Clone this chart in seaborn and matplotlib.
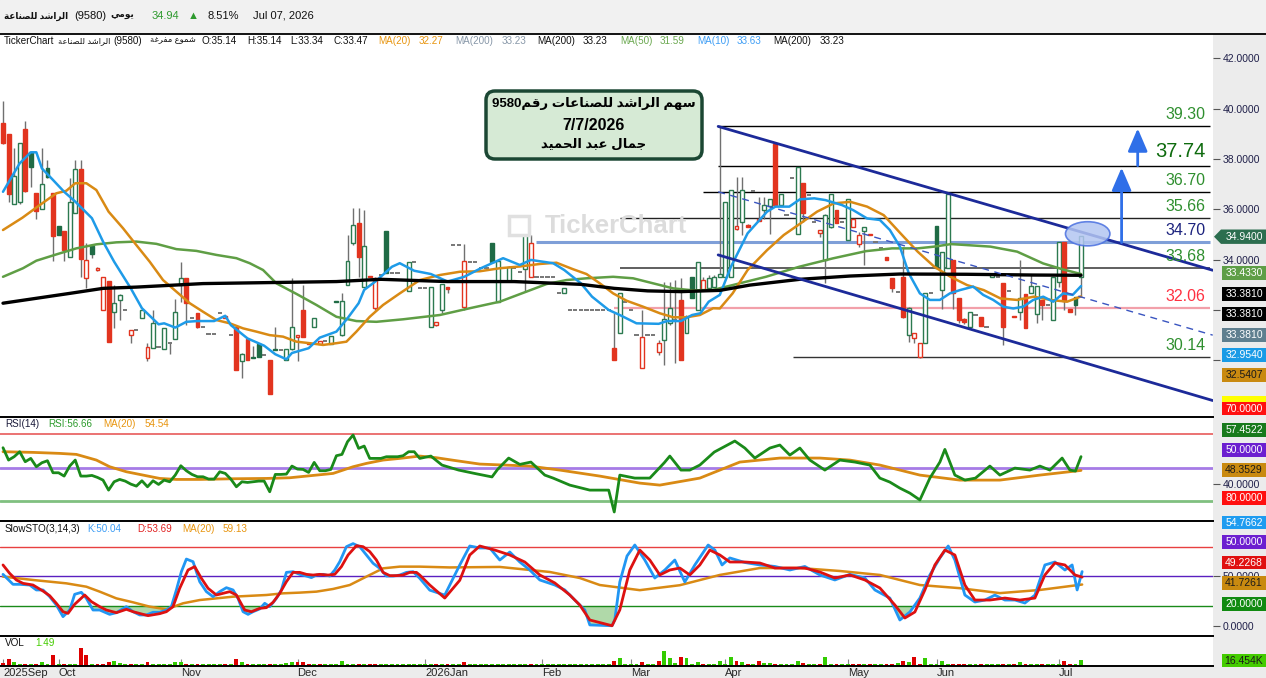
import numpy as np
import matplotlib
matplotlib.use("Agg")
import matplotlib.pyplot as plt
import seaborn as sns
from matplotlib.patches import FancyBboxPatch, Rectangle, Polygon, Ellipse
from matplotlib.lines import Line2D
from matplotlib.transforms import IdentityTransform

sns.set_style("white")
plt.rcParams["font.family"] = ["Liberation Sans", "DejaVu Sans"]

# ---------------- data ----------------
opens = [39.42, 39.00, 36.23, 36.28, 39.20, 38.29, 36.64, 36.00, 37.63, 36.64,
         35.34, 35.14, 34.12, 35.85, 37.60, 33.28, 34.56, 33.58, 31.99, 33.15,
         31.93, 32.41, 32.00, 31.00, 31.19, 31.67, 30.08, 30.48, 30.52, 30.44,
         30.68, 30.83, 32.99, 33.28, 31.67, 31.90, 31.34, 31.03, 31.03, 31.90,
         31.67, 31.00, 31.31, 29.98, 30.85, 30.13, 30.66, 30.21, 30.01, 30.45,
         30.42, 30.01, 30.44, 30.91, 32.00, 30.70, 31.34, 30.66, 30.75, 30.64,
         32.33, 31.00, 32.99, 34.65, 35.45, 32.93, 33.35, 32.07, 33.40, 35.14,
         33.48, 33.48, 33.20, 32.77, 33.92, 32.86, 32.86, 31.34, 31.40, 32.00,
         32.90, 34.58, 34.58, 32.13, 33.92, 33.92, 33.68, 33.68, 34.65, 32.33,
         33.68, 33.15, 33.68, 33.50, 33.62, 33.32, 33.32, 33.32, 33.32, 33.32,
         32.66, 32.66, 32.00, 32.00, 32.00, 32.00, 32.00, 32.00, 32.00, 32.00,
         30.48, 31.07, 32.33, 32.00, 31.00, 29.68, 31.00, 31.00, 30.34, 30.81,
         31.47, 31.60, 32.40, 31.07, 33.32, 32.00, 32.79, 32.86, 32.93, 33.32,
         33.32, 33.32, 35.24, 35.51, 35.36, 36.73, 35.63, 35.97, 36.13, 38.62,
         36.17, 35.77, 37.23, 35.04, 37.03, 36.57, 35.51, 35.07, 33.99, 35.31,
         35.97, 35.51, 34.78, 35.31, 34.61, 35.15, 34.98, 34.70, 34.45, 34.12,
         33.26, 32.73, 33.32, 31.00, 30.87, 30.14, 30.67, 32.66, 35.34, 32.79,
         33.65, 33.99, 32.46, 31.63, 31.33, 31.80, 31.73, 31.33, 33.32, 33.30,
         33.06, 32.77, 31.76, 31.93, 32.62, 32.66, 31.86, 32.40, 32.20, 31.60,
         33.12, 34.69, 32.02, 32.53, 33.30]
highs = [40.31, 39.00, 38.44, 38.65, 39.51, 38.29, 36.64, 38.44, 37.96, 36.64,
         35.34, 35.14, 37.24, 37.96, 37.96, 34.65, 34.56, 33.70, 33.30, 33.15,
         33.00, 32.65, 32.00, 31.20, 31.19, 31.99, 30.68, 32.00, 30.52, 31.30,
         30.68, 32.43, 33.92, 33.28, 31.67, 31.90, 31.34, 31.03, 31.03, 31.90,
         31.78, 31.00, 31.31, 30.30, 30.85, 30.56, 30.66, 30.21, 30.01, 31.31,
         30.42, 30.45, 33.28, 31.00, 33.00, 30.70, 31.67, 30.78, 30.75, 30.97,
         32.33, 32.66, 34.98, 36.04, 36.04, 35.98, 33.35, 33.30, 33.40, 35.14,
         33.48, 33.48, 33.20, 33.92, 33.92, 32.86, 32.86, 32.90, 31.51, 33.02,
         32.90, 34.58, 34.58, 34.62, 33.92, 33.92, 33.68, 33.68, 34.65, 33.95,
         33.68, 33.75, 33.68, 33.50, 35.00, 34.98, 33.32, 33.32, 33.32, 33.32,
         32.66, 32.86, 32.00, 32.00, 32.00, 32.00, 32.00, 32.00, 32.00, 32.00,
         31.88, 32.66, 32.33, 32.00, 31.00, 32.00, 31.00, 31.00, 30.80, 33.12,
         33.10, 33.20, 33.27, 31.80, 33.32, 33.92, 33.30, 33.40, 33.40, 39.28,
         36.30, 36.77, 37.30, 37.30, 35.40, 36.73, 36.50, 36.50, 36.40, 38.62,
         36.63, 35.77, 37.23, 37.70, 37.03, 36.57, 35.51, 35.20, 35.80, 36.63,
         35.97, 35.51, 36.40, 35.62, 35.10, 35.31, 35.04, 34.70, 34.45, 34.12,
         33.26, 32.73, 34.52, 32.10, 31.07, 30.67, 32.66, 32.66, 35.34, 34.32,
         36.67, 33.99, 32.46, 31.67, 31.93, 31.80, 31.73, 31.33, 33.45, 33.30,
         33.06, 32.77, 31.76, 33.99, 32.62, 33.40, 32.96, 32.40, 32.20, 33.32,
         34.72, 34.69, 32.02, 32.53, 34.94]
lows = [38.60, 36.30, 36.20, 36.20, 36.70, 36.90, 35.62, 36.00, 37.25, 33.96,
        35.00, 33.96, 34.10, 35.85, 33.32, 32.89, 34.07, 33.55, 31.99, 30.74,
        31.30, 31.60, 32.00, 30.68, 31.19, 31.67, 29.98, 30.48, 30.52, 30.44,
        30.24, 30.83, 32.33, 31.40, 31.67, 31.30, 31.34, 31.03, 31.03, 31.90,
        31.67, 31.00, 29.61, 29.31, 30.01, 30.08, 30.14, 30.21, 28.66, 30.40,
        30.42, 30.01, 30.40, 29.98, 30.94, 30.66, 31.34, 30.66, 30.75, 30.64,
        32.31, 30.95, 32.99, 34.60, 33.32, 32.90, 33.30, 32.00, 33.40, 33.46,
        33.48, 33.48, 33.20, 32.77, 33.92, 32.86, 32.86, 31.34, 31.35, 31.90,
        32.66, 34.58, 34.58, 32.00, 33.92, 33.92, 33.68, 33.68, 33.92, 32.33,
        33.68, 33.15, 33.68, 33.50, 32.73, 33.30, 33.32, 33.32, 33.32, 33.32,
        32.66, 32.66, 32.00, 32.00, 32.00, 32.00, 32.00, 32.00, 32.00, 32.00,
        30.00, 31.07, 32.33, 32.00, 31.00, 29.68, 31.00, 31.00, 30.20, 29.80,
        31.40, 29.90, 30.00, 31.07, 32.46, 32.00, 32.79, 32.86, 32.90, 33.30,
        33.30, 33.30, 35.20, 34.98, 35.28, 36.73, 35.54, 35.60, 35.04, 36.10,
        36.17, 35.77, 37.23, 35.04, 35.50, 36.57, 35.51, 34.90, 33.06, 35.25,
        35.47, 35.51, 34.78, 35.31, 34.50, 33.80, 34.98, 34.70, 34.45, 33.99,
        32.70, 32.73, 31.70, 30.74, 30.67, 30.10, 30.67, 32.66, 33.65, 32.05,
        33.65, 32.05, 31.47, 31.44, 31.27, 31.80, 31.36, 31.33, 33.32, 33.30,
        30.61, 32.77, 31.71, 31.60, 31.27, 32.66, 31.47, 31.60, 32.20, 31.60,
        32.90, 31.99, 31.93, 31.80, 32.53]
closes = [38.65, 36.61, 37.33, 38.63, 36.74, 37.67, 35.95, 37.00, 37.30, 34.95,
          35.00, 34.37, 36.28, 37.60, 34.04, 33.98, 34.24, 33.67, 33.30, 30.74,
          32.27, 32.60, 32.00, 31.19, 31.19, 31.99, 30.52, 31.47, 30.52, 31.27,
          30.68, 31.93, 33.28, 32.29, 31.67, 31.34, 31.34, 31.03, 31.03, 31.90,
          31.76, 31.00, 29.61, 30.24, 30.01, 30.08, 30.14, 30.21, 28.66, 30.42,
          30.42, 30.44, 31.31, 31.00, 30.94, 30.66, 31.67, 30.78, 30.75, 30.97,
          32.31, 32.37, 33.96, 35.38, 34.12, 34.56, 33.30, 33.28, 33.40, 33.46,
          33.48, 33.48, 33.20, 33.92, 33.92, 32.86, 32.86, 32.90, 31.51, 33.02,
          32.83, 34.58, 34.58, 33.95, 33.92, 33.92, 33.68, 33.68, 33.92, 33.95,
          33.68, 33.70, 33.68, 33.50, 34.98, 34.65, 33.32, 33.32, 33.32, 33.32,
          32.66, 32.86, 32.00, 32.00, 32.00, 32.00, 32.00, 32.00, 32.00, 32.00,
          30.01, 32.66, 32.33, 32.00, 31.00, 30.91, 31.00, 31.00, 30.68, 31.63,
          32.07, 31.60, 30.01, 31.73, 32.46, 33.92, 33.20, 33.28, 33.32, 33.45,
          36.30, 36.77, 35.34, 36.77, 35.28, 36.73, 35.54, 36.17, 36.40, 36.17,
          36.63, 35.77, 37.23, 37.70, 35.87, 36.57, 35.51, 35.18, 35.77, 36.63,
          35.47, 35.51, 36.40, 35.62, 34.98, 35.31, 35.04, 34.70, 34.45, 33.99,
          32.86, 32.73, 31.73, 32.06, 31.07, 30.67, 32.66, 32.66, 33.65, 34.32,
          36.61, 32.66, 31.60, 31.53, 31.93, 31.80, 31.36, 31.33, 33.45, 33.30,
          31.33, 32.77, 31.71, 32.46, 31.27, 32.96, 32.96, 32.20, 32.20, 33.32,
          34.69, 32.36, 31.93, 32.20, 34.94]
volumes_k = [8, 17, 11, 5, 5, 6, 6, 11, 4, 27,
             6, 6, 6, 6, 45, 27, 6, 4, 6, 9,
             14, 7, 4, 6, 4, 4, 9, 4, 4, 4,
             4, 9, 9, 4, 4, 4, 4, 4, 4, 4,
             6, 6, 18, 9, 4, 6, 4, 4, 4, 6,
             4, 7, 9, 11, 9, 4, 4, 4, 4, 4,
             4, 12, 6, 6, 4, 4, 6, 4, 4, 4,
             4, 4, 4, 4, 4, 4, 4, 4, 4, 6,
             4, 4, 4, 9, 4, 4, 4, 4, 4, 6,
             4, 4, 4, 4, 6, 6, 4, 4, 4, 4,
             4, 4, 4, 4, 4, 4, 4, 4, 4, 4,
             13, 20, 4, 4, 4, 9, 4, 4, 13, 39,
             20, 8, 23, 20, 4, 10, 4, 4, 4, 13,
             6, 23, 13, 10, 6, 4, 13, 8, 8, 4,
             6, 4, 4, 13, 8, 4, 4, 4, 23, 6,
             4, 4, 6, 4, 4, 4, 4, 4, 4, 6,
             6, 8, 13, 10, 23, 4, 20, 4, 4, 13,
             4, 4, 4, 4, 4, 4, 4, 4, 4, 4,
             6, 4, 4, 10, 4, 6, 4, 4, 4, 4,
             6, 13, 4, 4, 16.45]

ma10_x = [0, 3, 5, 6, 7, 9, 11, 13, 16, 18, 20, 23, 25, 28, 29, 31, 33, 35, 38, 40, 41, 44, 47, 49, 51, 52,
          55, 57, 60, 62, 64, 65, 67, 70, 71.4, 74, 77, 80, 83, 86, 90, 93, 95, 99, 101, 104, 106, 109, 111,
          114, 118, 119.5, 122, 124, 125.5, 127, 129, 131, 134, 137.5, 139, 141.5, 143.4, 146, 148, 151, 153,
          155.5, 157.8, 159.6, 161.4, 163, 165, 166.8, 168.6, 170.4, 172.2, 174.6, 176.4, 178.2, 180, 181.8,
          183.6, 185.4, 187.2, 189, 190.8, 192.5, 194]
ma10_v = [36.70, 37.83, 38.27, 38.27, 37.63, 37.17, 36.70, 36.31, 35.65, 34.72, 33.92, 32.86, 32.07, 31.43,
          31.47, 31.30, 31.53, 31.56, 31.56, 31.77, 31.40, 30.87, 30.58, 30.24, 30.04, 30.29, 30.48, 30.90,
          31.14, 31.67, 32.27, 32.80, 33.13, 33.72, 33.86, 33.56, 33.43, 33.13, 33.32, 33.66, 34.06, 33.79,
          33.99, 33.86, 33.59, 33.06, 32.53, 32.00, 31.80, 31.47, 31.45, 31.56, 31.56, 31.80, 31.87, 32.33,
          32.60, 33.72, 35.05, 35.91, 36.11, 36.11, 36.40, 36.44, 36.37, 36.17, 35.97, 35.64, 35.58, 35.18,
          34.52, 33.46, 32.66, 32.40, 32.40, 32.66, 32.79, 32.93, 32.60, 32.40, 32.13, 32.06, 32.13, 32.40,
          32.53, 32.33, 32.66, 32.60, 32.95]
ma20_x = [0, 3.5, 6.6, 9.6, 11.4, 13, 15, 16.8, 19, 21.6, 24, 26.4, 28.8, 31.2, 33.6, 36, 38.4, 40.8, 43.2,
          45.6, 48, 50.4, 52.8, 55.2, 57.6, 60, 61.8, 63.6, 66, 68.4, 71.4, 75, 78.6, 82.2, 85.8, 89.4, 93,
          96.6, 99.6, 102.6, 105, 107.4, 109.8, 112.2, 115.2, 118.2, 120.6, 123, 125.4, 127.8, 129, 131.3, 134,
          137.5, 140.5, 143.5, 146.5, 149.5, 152.5, 155.5, 158.5, 161.5, 164.6, 167.6, 170.5, 173.5, 176.5,
          179.5, 182.5, 185.5, 188.5, 191.5, 194]
ma20_v = [35.18, 35.67, 36.17, 36.64, 36.74, 37.04, 37.04, 36.77, 35.91, 35.25, 34.58, 33.92, 33.19, 32.73,
          32.27, 31.93, 31.60, 31.47, 31.27, 31.14, 31.00, 30.94, 30.74, 30.68, 30.61, 30.68, 30.74, 31.14,
          31.73, 32.20, 32.66, 33.19, 33.39, 33.52, 33.54, 33.66, 33.73, 33.83, 33.88, 33.62, 33.43, 33.06,
          32.66, 32.37, 32.13, 31.87, 31.71, 31.71, 31.80, 32.07, 32.06, 32.66, 33.59, 34.38, 34.98, 35.44,
          35.91, 36.24, 36.30, 36.11, 35.77, 35.05, 34.32, 33.72, 33.32, 32.99, 32.79, 32.46, 32.40, 32.53,
          32.40, 32.33, 32.54]
ma50_x = [0, 3.6, 6, 9.6, 13.2, 16.8, 20.4, 24, 27.6, 31.2, 34.8, 38.4, 42, 44.4, 46.8, 49.2, 52.8, 56.4, 60,
          63.6, 67.2, 72, 78.6, 84, 89.4, 94.2, 97.8, 101.4, 105, 109.8, 113.4, 117, 120.6, 124.2, 127.8,
          131.3, 137.3, 143.3, 149.3, 155.3, 160, 164.6, 167.6, 170.6, 173.5, 177.7, 182.5, 187.2, 190.8, 194]
ma50_v = [33.32, 33.66, 33.96, 34.21, 34.45, 34.61, 34.69, 34.72, 34.63, 34.42, 34.35, 34.19, 34.06, 33.86,
          33.59, 33.06, 32.64, 32.20, 31.73, 31.56, 31.53, 31.63, 31.80, 32.07, 32.33, 32.73, 33.03, 33.19,
          33.26, 33.32, 33.26, 33.06, 32.86, 32.78, 32.80, 32.99, 33.32, 33.72, 34.05, 34.34, 34.45, 34.45,
          34.52, 34.62, 34.58, 34.52, 34.32, 33.85, 33.61, 33.43]
ma200_x = [0, 12, 18, 24, 36, 48, 60, 68, 80, 92, 104, 110, 116, 122, 129, 134.4, 143.4, 152.4, 161.4,
           173.4, 185.4, 194]
ma200_v = [32.27, 32.66, 32.86, 32.91, 33.05, 33.09, 33.13, 33.22, 33.13, 33.13, 33.02, 32.86, 32.76, 32.73,
           32.78, 32.99, 33.22, 33.35, 33.43, 33.42, 33.39, 33.38]

rsi_x = list(range(76)) + [77, 79, 82, 85, 88, 89, 91, 93, 95, 97.5, 99, 102, 105.6, 109, 110, 111, 113.7,
                           116.4, 119, 120, 122, 123.6, 125.4, 128, 131.7, 133.5, 135.3, 138, 139.8, 141.6,
                           143.4, 145.2, 147.9, 150.6, 153.3, 156, 157.8, 159.6, 161.4, 163.2, 165, 166.8,
                           168.6, 169.5, 171.3, 173.1, 175, 177.6, 179.4, 182.1, 184.8, 186.6, 188.4, 190.6,
                           192, 193, 194]
rsi_v = [62.0, 54.6, 56.6, 59.6, 53.6, 55.6, 50.6, 53.0, 54.2, 47.0,
         47.0, 45.0, 51.0, 54.6, 45.0, 45.0, 45.4, 44.2, 42.6, 36.6,
         41.6, 43.0, 42.0, 40.2, 39.0, 42.2, 38.6, 42.2, 40.0, 42.6,
         41.6, 45.6, 51.2, 48.2, 46.0, 44.6, 44.6, 43.2, 43.2, 47.6,
         46.6, 43.2, 38.6, 41.6, 41.2, 41.6, 42.0, 42.0, 35.6, 46.0,
         46.0, 46.2, 51.0, 49.2, 49.0, 47.2, 53.2, 48.2, 48.2, 49.0,
         57.2, 58.0, 65.6, 69.6, 61.6, 63.0, 55.6, 55.6, 55.6, 56.6,
         56.6, 56.6, 57.2, 59.6, 59.6, 55.6,
         57.0, 51.6, 48.6, 46.5, 44.5, 49.0, 55.8, 52.0, 53.4, 45.6,
         43.8, 39.6, 36.6, 36.6, 23.5, 45.6, 43.8, 43.8, 53.0, 57.0,
         48.6, 48.6, 51.6, 59.4, 66.0, 61.8, 55.8, 61.8, 63.6, 57.6,
         61.8, 54.6, 48.6, 54.6, 53.4, 51.6, 43.8, 41.4, 37.8, 34.8,
         30.7, 43.8, 53.4, 61.0, 45.6, 42.6, 43.8, 51.0, 45.6, 49.8,
         48.6, 51.0, 48.6, 55.8, 48.6, 48.0, 56.66]
rsi_ma_x = [0, 5.4, 10.2, 13.2, 16.8, 19.2, 22.2, 25.2, 28.2, 31.2, 35.4, 41.4, 47.4, 51.6, 55.2, 59.4, 63,
            65.4, 68.4, 71.4, 75, 78, 81, 85.8, 94.8, 100.2, 107.4, 114.6, 118.2, 125.4, 132.6, 139.8, 147,
            152.4, 157.8, 165, 172.2, 179.4, 186.6, 194]
rsi_ma_v = [59.6, 59.2, 58.6, 58.0, 54.6, 50.6, 47.6, 45.6, 43.6, 43.0, 43.0, 43.4, 43.6, 44.0, 45.2, 46.6,
            50.6, 52.6, 54.6, 55.6, 57.0, 56.0, 54.5, 52.2, 51.0, 48.6, 45.0, 40.8, 39.6, 43.8, 53.4, 55.8,
            55.8, 54.6, 51.6, 45.6, 42.6, 42.6, 45.6, 48.4]

sto_k_x = [0, 1.8, 3, 4.8, 6, 7.2, 8.4, 9.6, 10.8, 12, 12.9, 14.1, 15, 16.2, 17.4, 19.2, 20.4, 22.2, 23.4,
           24.6, 25.8, 27, 28.2, 29.4, 30.3, 31.2, 32.1, 33, 34.2, 35.4, 36.6, 37.8, 39, 40.2, 41.4, 42.3,
           43.2, 44.1, 45, 46.2, 47.1, 48, 49.2, 50.1, 51, 52.2, 53.4, 54.6, 55.5, 56.4, 57.6, 58.8, 59.7,
           60.6, 61.8, 63, 64.2, 65.4, 66.6, 67.8, 69, 70.2, 71.4, 72.6, 73.8, 75,
           76.8, 79.5, 82.2, 84, 85.8, 87.6, 89.4, 91.2, 93, 94.8, 96.6, 99.3, 101.1, 102.9, 104.7, 105.6,
           109.6, 110.1, 111, 112.3, 113.7, 115.5, 117.3, 119.1, 120.9, 122.7, 124.5, 126.9, 128.1, 129.4,
           130.8, 133.5, 136.2, 138.9, 141.6, 144.3, 147, 149.7, 152.4, 155.1, 156.9, 159.6, 161.4, 163.2,
           165, 166.8, 168.6, 170.1, 171.3, 173.1, 174.9, 176.7, 178.5, 180.3, 182.1, 183.9, 185.7, 187.5,
           189.3, 191.1, 192.4, 193.3, 194.2]
sto_k_v = [52.0, 41.9, 41.9, 41.2, 36.2, 36.2, 29.4, 21.0, 9.2, 15.9, 31.8, 33.8, 27.7, 15.9, 15.9, 11.5,
           13.2, 19.3, 14.2, 10.9, 10.9, 13.6, 13.6, 15.9, 19.3, 36.2, 54.7, 67.5, 64.8, 44.6, 34.5, 29.4,
           34.5, 38.5, 36.2, 27.7, 14.2, 11.5, 14.2, 17.0, 22.7, 19.3, 27.7, 36.2, 54.0, 54.7, 52.0, 50.3,
           48.7, 51.3, 52.0, 50.3, 56.4, 64.8, 80.0, 83.1, 80.0, 71.6, 63.2, 58.1, 50.3, 50.3, 51.3, 54.0,
           54.7, 48.0,
           36.0, 31.0, 61.5, 80.7, 78.7, 78.7, 66.5, 74.6, 64.5, 56.4, 46.3, 41.2, 36.2, 26.0, 16.0, 0.8,
           0.0, 6.0, 44.3, 70.6, 81.7, 66.5, 48.3, 56.4, 66.5, 44.3, 61.5, 81.7, 76.6, 61.5, 68.6, 64.0,
           61.5, 60.0, 56.4, 60.0, 51.4, 46.3, 52.0, 48.3, 36.2, 28.0, 5.8, 13.9, 28.0, 51.4, 68.6, 80.7,
           66.5, 31.1, 24.0, 26.0, 31.0, 26.0, 26.0, 23.0, 31.0, 61.5, 64.5, 56.4, 61.5, 36.2, 54.8]
sto_d_x = [0, 1.2, 2.4, 3.6, 5.4, 7.2, 8.4, 9.6, 10.8, 11.7, 12.9, 14.7, 15.9, 17.4, 18.6, 20.4, 22.2, 23.4,
           25.2, 26.1, 28.2, 29.4, 30.6, 31.8, 33.3, 34.5, 35.7, 36.9, 38.4, 39.6, 40.8, 42, 43.5, 44.7,
           46.2, 47.4, 48.6, 49.8, 51, 52.2, 53.4, 54.6, 55.8, 57, 58.5, 59.7, 60.9, 62.1, 63.6, 64.8, 66,
           67.2, 68.4, 69.6, 70.8, 72, 73.2, 74.4, 75,
           76.8, 79.5, 82.2, 84, 85.8, 88.5, 91.2, 93.9, 96.6, 99.3, 102, 103.8, 105.6, 109.6, 111, 112.8,
           114.6, 116.4, 118.2, 120, 121.8, 123.6, 125.4, 127.2, 129, 130.8, 133.5, 136.2, 138.9, 141.6,
           144.3, 147, 149.7, 152.4, 155.1, 157.8, 160.5, 162.3, 164.1, 165.9, 167.7, 169.5, 171.3, 173.1,
           174.9, 177.6, 180.3, 183, 185.7, 187.5, 189.3, 191.1, 192.9, 194.2]
sto_d_v = [61.5, 53.0, 46.3, 42.9, 41.2, 35.1, 30.4, 22.7, 14.2, 12.5, 21.7, 31.1, 24.4, 19.3, 15.9, 13.2,
           16.6, 14.2, 11.5, 10.2, 12.2, 14.2, 19.3, 37.9, 56.4, 59.8, 48.0, 37.9, 31.1, 32.8, 34.5, 31.1,
           15.9, 14.2, 17.6, 18.3, 23.7, 32.8, 44.6, 54.0, 54.0, 52.0, 51.3, 52.0, 51.3, 52.0, 59.8, 71.6,
           81.0, 80.0, 75.0, 66.5, 54.0, 50.7, 50.7, 51.3, 54.0, 54.0, 51.3,
           41.2, 28.0, 46.0, 71.6, 80.7, 76.6, 71.6, 64.5, 51.4, 43.3, 31.1, 20.9, 5.8, 0.0, 16.0, 56.4,
           76.6, 66.5, 51.4, 56.4, 58.4, 51.4, 61.5, 76.6, 71.6, 64.5, 64.5, 63.5, 58.4, 58.4, 58.4, 54.4,
           48.3, 51.4, 46.3, 38.2, 21.0, 7.8, 13.9, 36.2, 61.5, 76.6, 71.6, 41.2, 26.0, 26.0, 28.0, 26.0,
           28.0, 51.4, 63.5, 61.5, 51.4, 49.2]
sto_ma_x = [0, 5.4, 11.4, 15, 17.4, 20.4, 23.4, 26.4, 29.4, 32.4, 35.4, 41.4, 47.4, 50.4, 53.4, 56.4, 59.4,
            62.4, 65.4, 68.4, 71.4, 75, 80.4, 89.4, 98.4, 103.8, 107.4, 114.6, 121.8, 129, 136.2, 143.4,
            150.6, 157.8, 165, 172.2, 179.4, 186.6, 194.2]
sto_ma_v = [49.7, 46.3, 42.9, 39.5, 34.5, 27.7, 23.7, 19.3, 16.6, 22.7, 26.0, 29.4, 31.1, 32.8, 33.5, 34.5,
            37.2, 41.2, 49.7, 58.1, 59.8, 59.8, 59.0, 59.5, 54.4, 48.3, 41.2, 36.0, 41.0, 51.4, 58.4, 58.4,
            55.4, 51.4, 41.2, 38.0, 33.0, 36.2, 41.7]

# drawn levels and the falling channel
levels = [39.30, 37.74, 36.70, 35.66, 34.70, 33.68, 32.06, 30.14]
level_start = [128.7, 128.7, 126, 111, 96, 111, 110, 142.2]
channel_x = [128.7, 217.7]
channel_upper = [39.30, 33.58]
channel_lower = [34.19, 28.40]
channel_mid = [36.70, 31.00]
target_x = [201.3, 204.2]

month_pos = [0, 10, 32, 53, 76, 97, 113, 130, 152, 168, 190]
month_labels = ["2025Sep", "Oct", "Nov", "Dec", "2026Jan", "Feb", "Mar", "Apr", "May", "Jun", "Jul"]

# ---------------- Arabic shaping (presentation forms, visual order) ----------------
AR = {
    "ا": (0xFE8D, 0xFE8E, None, None), "ب": (0xFE8F, 0xFE90, 0xFE91, 0xFE92),
    "ة": (0xFE93, 0xFE94, None, None), "ت": (0xFE95, 0xFE96, 0xFE97, 0xFE98),
    "ج": (0xFE9D, 0xFE9E, 0xFE9F, 0xFEA0), "ح": (0xFEA1, 0xFEA2, 0xFEA3, 0xFEA4),
    "د": (0xFEA9, 0xFEAA, None, None), "ر": (0xFEAD, 0xFEAE, None, None),
    "س": (0xFEB1, 0xFEB2, 0xFEB3, 0xFEB4), "ش": (0xFEB5, 0xFEB6, 0xFEB7, 0xFEB8),
    "ص": (0xFEB9, 0xFEBA, 0xFEBB, 0xFEBC), "ع": (0xFEC9, 0xFECA, 0xFECB, 0xFECC),
    "غ": (0xFECD, 0xFECE, 0xFECF, 0xFED0), "ف": (0xFED1, 0xFED2, 0xFED3, 0xFED4),
    "ق": (0xFED5, 0xFED6, 0xFED7, 0xFED8), "ل": (0xFEDD, 0xFEDE, 0xFEDF, 0xFEE0),
    "م": (0xFEE1, 0xFEE2, 0xFEE3, 0xFEE4), "ن": (0xFEE5, 0xFEE6, 0xFEE7, 0xFEE8),
    "ه": (0xFEE9, 0xFEEA, 0xFEEB, 0xFEEC), "و": (0xFEED, 0xFEEE, None, None),
    "ي": (0xFEF1, 0xFEF2, 0xFEF3, 0xFEF4),
}


def ar(text):
    out = []
    for k, ch in enumerate(text):
        if ch not in AR:
            out.append(ch)
            continue
        iso, fin, ini, med = AR[ch]
        prev = text[k - 1] if k > 0 else ""
        nxt = text[k + 1] if k + 1 < len(text) else ""
        jp = prev in AR and AR[prev][2] is not None
        jn = nxt in AR and ini is not None
        code = med if (jp and jn) else fin if jp else ini if jn else iso
        out.append(chr(code))
    return "".join(reversed(out))


# ---------------- figure ----------------
W, H = 1266, 678
fig = plt.figure(figsize=(W / 100, H / 100), dpi=100, facecolor="#ececec")
PX = IdentityTransform()


def px_axes(x0, y0, x1, y1):
    a = fig.add_axes([x0 / W, 1 - y1 / H, (x1 - x0) / W, (y1 - y0) / H])
    a.set_facecolor("white")
    for s in a.spines.values():
        s.set_visible(False)
    a.set_xlim(-0.54, 217.75)
    return a


def ftext(px, py, s, color="#111111", size=7.1, weight="normal", ha="left", z=6):
    fig.text(px / W, 1 - py / H, s, color=color, fontsize=size, fontweight=weight,
             ha=ha, va="center", zorder=z)


fig.add_artist(Rectangle((0, H - 33), W, 33, transform=PX, color="#f1f1f1", zorder=-1))
fig.add_artist(Line2D([0, W], [H - 33.5, H - 33.5], transform=PX, color="black", lw=1.3))

ax = px_axes(0, 34, 1213, 417)
ax_rsi = px_axes(0, 417, 1213, 521)
ax_sto = px_axes(0, 521, 1213, 636)
ax_vol = px_axes(0, 636, 1213, 666)
for a in (ax_rsi, ax_sto, ax_vol):
    a.spines["top"].set_visible(True)
    a.spines["top"].set_color("black")
    a.spines["top"].set_linewidth(1.4)
ax_vol.spines["bottom"].set_visible(True)
ax_vol.spines["bottom"].set_color("black")
ax_vol.spines["bottom"].set_linewidth(1.4)

# ---------------- candles ----------------
o, h, l, c = (np.array(v) for v in (opens, highs, lows, closes))
idx = np.arange(len(c))
prev_c = np.r_[o[0], c[:-1]]
up = c >= prev_c
RED, GRN_F, GRN_E, GREY = "#e2341f", "#1f6b45", "#2c7a50", "#777777"

flat = o == c
ax.vlines(idx, l, h, color="#707070", lw=1, zorder=2)
ax.hlines(c[flat], idx[flat] - 0.38, idx[flat] + 0.38, color=GREY, lw=1.4, zorder=3)
body = ~flat
col = np.where(up, GRN_E, RED)
face = np.where(c < o, np.where(up, GRN_F, RED), "white")
edge = np.where(up & (c < o), GRN_F, col)
ax.bar(idx[body], np.maximum(np.abs(c - o), 0.03)[body], bottom=np.minimum(o, c)[body], width=0.7,
       color=face[body], edgecolor=edge[body], linewidth=1, zorder=3)

# levels
level_line = ["black", "black", "black", "#222222", "#7f9fd8", "#444444", "#f2a0aa", "#333333"]
level_lw = [1, 1, 1, 1, 2.2, 1.2, 1.6, 1]
level_txt = ["#2f8f2f", "#0e6b0e", "#2f8f2f", "#2f8f2f", "#1c237e", "#2f8f2f", "#ff3040", "#2f8f2f"]
for lv, st, lc, lw_, tc in zip(levels, level_start, level_line, level_lw, level_txt):
    ax.hlines(lv, st, 217.2, color=lc, lw=lw_, zorder=1)
    ax.annotate(f"{lv:.2f}", xy=(216.4, lv), xytext=(0, 3), textcoords="offset points", ha="right",
                va="bottom", color=tc, fontsize=14.5 if lv == 37.74 else 11.5, zorder=6)

# channel
ax.plot(channel_x, channel_upper, color="#1c2a99", lw=2, zorder=5)
ax.plot(channel_x, channel_lower, color="#1c2a99", lw=2, zorder=5)
ax.plot(channel_x, channel_mid, color="#3a55c0", lw=1, ls=(0, (5, 4)), zorder=5)

# moving averages
for xs, ys, colr, lw_ in [(ma50_x, ma50_v, "#5f9e45", 1.8), (ma20_x, ma20_v, "#d98a14", 1.8),
                          (ma10_x, ma10_v, "#1e9be8", 1.8), (ma200_x, ma200_v, "black", 2.4)]:
    sns.lineplot(x=xs, y=ys, ax=ax, color=colr, lw=lw_, zorder=4)

# target arrows & highlight
ax.annotate("", xy=(target_x[0], levels[1] - 0.08), xytext=(target_x[0], levels[4] - 0.02),
            arrowprops=dict(arrowstyle="-|>,head_width=0.3,head_length=0.7", color="#2f6fe8", lw=2,
                            mutation_scale=20, shrinkA=0, shrinkB=0), zorder=6)
ax.annotate("", xy=(target_x[1], levels[0] - 0.08), xytext=(target_x[1], levels[1]),
            arrowprops=dict(arrowstyle="-|>,head_width=0.3,head_length=0.7", color="#2f6fe8", lw=2,
                            mutation_scale=20, shrinkA=0, shrinkB=0), zorder=6)
ax.add_patch(Ellipse((195.2, 35.03), 8.0, 0.96, facecolor="#b3c6f2", edgecolor="#4a70e0", lw=1.2,
                     alpha=0.85, zorder=6))

# watermark
ax.text(110.3, 35.35, "TickerChart", color="#dcdcdc", fontsize=18.5, fontweight="bold", ha="center",
        va="center", zorder=1)
fig.add_artist(Rectangle((509, H - 235), 20, 19, transform=PX, fc="none", ec="#e0e0e0", lw=2.5,
                         zorder=0.5))

ax.set_ylim(27.745, 42.974)
ax.set_xticks([])
ax.yaxis.tick_right()
ax.set_yticks([30, 32, 34, 36, 38, 40, 42])
ax.set_yticklabels(["", "", "34.0000", "36.0000", "38.0000", "40.0000", "42.0000"])
ax.set(xlabel="", ylabel="")

# ---------------- RSI ----------------
ax_rsi.axhline(70, color="#e85a5a", lw=1.2)
ax_rsi.axhline(50, color="#a67be6", lw=2)
ax_rsi.axhline(30, color="#80c080", lw=2)
sns.lineplot(x=rsi_ma_x, y=rsi_ma_v, ax=ax_rsi, color="#d98a14", lw=2)
sns.lineplot(x=rsi_x, y=rsi_v, ax=ax_rsi, color="#1a8a1a", lw=2)
ax_rsi.set_ylim(18.1, 80.4)
ax_rsi.set_xticks([])
ax_rsi.yaxis.tick_right()
ax_rsi.set_yticks([40])
ax_rsi.set_yticklabels(["40.0000"])
ax_rsi.set(xlabel="", ylabel="")

# ---------------- Slow STO ----------------
ax_sto.axhline(80, color="#e84040", lw=1)
ax_sto.axhline(50, color="#5a20c0", lw=1)
ax_sto.axhline(20, color="#1a8a1a", lw=1)
kx, kv = np.array(sto_k_x), np.array(sto_k_v)
ax_sto.fill_between(kx, kv, 20, where=kv < 20, interpolate=True, color="#a8d5a0", alpha=0.9, lw=0)
sns.lineplot(x=sto_ma_x, y=sto_ma_v, ax=ax_sto, color="#d98a14", lw=1.8)
sns.lineplot(x=sto_k_x, y=sto_k_v, ax=ax_sto, color="#2196f3", lw=2)
sns.lineplot(x=sto_d_x, y=sto_d_v, ax=ax_sto, color="#dd1111", lw=2)
ax_sto.set_ylim(-10.4, 106)
ax_sto.set_xticks([])
ax_sto.yaxis.tick_right()
ax_sto.set_yticks([0, 50])
ax_sto.set_yticklabels(["0.0000", "50.0000"])
ax_sto.set(xlabel="", ylabel="")

# ---------------- Volume ----------------
vol_up = up | flat
ax_vol.bar(idx, volumes_k, width=0.7, color=np.where(vol_up, "#33cc00", "#dd0000"), linewidth=0)
ax_vol.set_ylim(0, 77)
ax_vol.set_yticks([])
ax_vol.set_xticks(month_pos)
ax_vol.set_xticklabels(month_labels)
for t in ax_vol.get_xticklabels():
    t.set_ha("left")
ax_vol.tick_params(axis="x", direction="in", length=5, width=0.8, color="#888888", labelsize=8,
                   pad=1.5, bottom=True)

for a in (ax, ax_rsi, ax_sto):
    a.tick_params(axis="y", length=5, width=0.8, color="#555555", labelsize=7.5, labelcolor="#20204a", pad=2)

# ---------------- header texts ----------------
ftext(68, 16, ar("الراشد للصناعة"), "#111111", size=6.3, weight="bold", ha="right")
ftext(134, 16, ar("يومي"), "#111111", size=6.5, weight="bold", ha="right")
for px, s, colr in [(74, "(9580)", "#111111"), (152, "34.94", "#2e9a2e"), (188, "▲", "#2e9a2e"),
                    (207, "8.51%", "#111111"), (253, "Jul 07, 2026", "#111111")]:
    ftext(px, 16, s, colr, size=8)

ORG, GRY, GRN, BLU = "#e8950f", "#8797a8", "#6aa84f", "#3d9df5"
ftext(110, 41, ar("الراشد للصناعة"), "#111111", size=6.0, ha="right")
ftext(196, 41, ar("شموع مفرغة"), "#111111", size=6.0, ha="right")
for px, s, colr in [(4, "TickerChart", "#111111"), (113, "(9580)", "#111111"),
                    (202, "O:35.14", "#111111"), (247, "H:35.14", "#111111"), (290, "L:33.34", "#111111"),
                    (333, "C:33.47", "#111111"), (378, "MA(20)", ORG), (419, "32.27", ORG),
                    (455, "MA(200)", GRY), (502, "33.23", GRY), (537, "MA(200)", "#111111"),
                    (583, "33.23", "#111111"), (620, "MA(50)", GRN), (660, "31.59", GRN),
                    (697, "MA(10)", BLU), (737, "33.63", BLU), (773, "MA(200)", "#111111"),
                    (820, "33.23", "#111111")]:
    ftext(px, 41, s, colr)

for px, s, colr in [(5, "RSI(14)", "#1a1a3a"), (48, "RSI:56.66", "#2b9a2b"), (103, "MA(20)", ORG),
                    (145, "54.54", ORG)]:
    ftext(px, 424, s, colr)
for px, s, colr in [(5, "SlowSTO(3,14,3)", "#111111"), (87, "K:50.04", BLU), (137, "D:53.69", "#e02020"),
                    (182, "MA(20)", ORG), (223, "59.13", ORG)]:
    ftext(px, 529, s, colr)
ftext(5, 643, "VOL", "#111111")
ftext(35, 643, "1.49", "#44cc00")

# ---------------- right-hand value boxes ----------------
fig.add_artist(Polygon([(1214, H - 236.7), (1221, H - 229.5), (1266, H - 229.5), (1266, H - 243.9),
                        (1221, H - 243.9)], closed=True, transform=PX, fc="#2c6e4f", ec="none", zorder=5))
ftext(1244, 236.7, "34.9400", "white", size=7.5, ha="center")
fig.add_artist(Rectangle((1222, H - 402), 44, 6, transform=PX, fc="#ffff00", ec="none", zorder=5))
boxes = [(273, "33.4330", "#5e9e46", "white"), (294, "33.3810", "#000000", "white"),
         (314, "33.3810", "#000000", "white"), (335, "33.3810", "#5f7f8f", "white"),
         (355, "32.9540", "#1a9be6", "white"), (375, "32.5407", "#c98a10", "#1a1a1a"),
         (408.5, "70.0000", "#ff1010", "white"), (430, "57.4522", "#187a1c", "white"),
         (450, "50.0000", "#6c1fd0", "white"), (470, "48.3529", "#c98a10", "#1a1a1a"),
         (498, "80.0000", "#ff1010", "white"), (522.5, "54.7662", "#1e9cf0", "white"),
         (542, "50.0000", "#6c1fd0", "white"), (562.5, "49.2268", "#e01010", "white"),
         (583, "41.7261", "#c98a10", "#1a1a1a"), (604, "20.0000", "#118a11", "white"),
         (660.5, "16.454K", "#44cc00", "#1a1a1a")]
for py, s, fc, tc in boxes:
    fig.add_artist(Rectangle((1222, H - py - 6.7), 44, 13.4, transform=PX, fc=fc, ec="none", zorder=5))
    ftext(1244, py, s, tc, size=7.5, ha="center")

# ---------------- annotation box ----------------
fig.add_artist(FancyBboxPatch((486, H - 159), 216, 68, boxstyle="round,pad=0,rounding_size=9",
                              transform=PX, fc="#d6ead5", ec="#1b4733", lw=2.5, zorder=5))
ftext(594, 104, "9580" + ar("سهم الراشد للصناعات رقم"), "black", size=9.5, weight="bold", ha="center")
ftext(594, 125, "7/7/2026", "black", size=11.5, weight="bold", ha="center")
ftext(594, 145, ar("جمال عبد الحميد"), "black", size=9.5, weight="bold", ha="center")

fig.savefig("out.png", dpi=100, facecolor=fig.get_facecolor())
